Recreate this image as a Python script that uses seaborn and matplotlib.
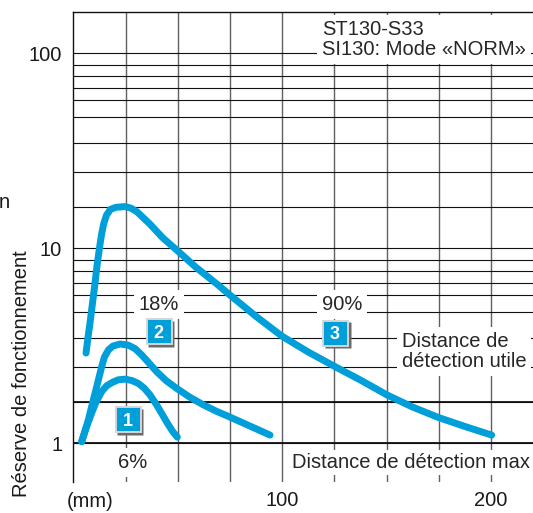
import numpy as np
import matplotlib
matplotlib.use("Agg")
import matplotlib.pyplot as plt
import matplotlib.transforms as mtransforms
import seaborn as sns
from matplotlib.ticker import FixedLocator, FixedFormatter, NullFormatter

# distance (mm) vs. excess gain
dist_6 = [4.0, 6.1, 8.8, 10.9, 13.6, 15.9, 18.4, 21.4, 24.8, 28.1, 31.1, 33.9, 36.7, 39.6,
          42.3, 45.3, 47.7, 49.8]
gain_6 = [1.04, 1.37, 1.74, 2.01, 2.30, 2.46, 2.55, 2.63, 2.65, 2.61, 2.53, 2.40, 2.21, 1.96,
          1.73, 1.47, 1.28, 1.15]

dist_18 = [4.0, 5.6, 7.2, 8.8, 10.4, 12.1, 13.6, 14.9, 16.8, 19.0, 22.4, 26.3, 29.5, 32.8,
           36.2, 39.9, 44.4, 49.5, 55.9, 62.2, 68.6, 75.0, 84.6, 94.2]
gain_18 = [1.04, 1.30, 1.57, 1.90, 2.25, 2.65, 3.0, 3.34, 3.59, 3.73, 3.80, 3.76, 3.64, 3.41,
           3.13, 2.86, 2.61, 2.39, 2.14, 1.94, 1.78, 1.64, 1.42, 1.20]

dist_90 = [6.1, 7.0, 8.0, 9.2, 10.4, 11.4, 12.4, 13.4, 14.5, 15.9, 17.8, 20.4, 24.8, 27.6,
           30.5, 33.6, 36.7, 42.9, 49.5, 58.8, 68.7, 75.0, 87.5, 99.8, 112.4, 125.3, 137.3,
           150.1, 162.2, 174.8, 187.5, 200.3]
gain_90 = [3.48, 4.01, 4.59, 5.53, 6.97, 8.53, 9.85, 13.0, 15.9, 18.1, 19.5, 20.0, 20.2, 19.8,
           18.9, 17.4, 15.9, 12.5, 9.85, 8.30, 6.89, 5.99, 4.84, 4.09, 3.52, 3.0, 2.63,
           2.21, 1.89, 1.63, 1.41, 1.20]

x_grid = [25, 50, 75, 125, 150, 175]
x_ticks = [100, 200]
y_ticks = [1, 10, 100]
y_minor = [2, 3, 4, 5, 6, 7, 8, 9, 20, 30, 40, 50, 60, 70, 80, 90]

# the printed "log" paper is not a true log scale: position of 1..10 inside a decade
MANTISSA = [1, 2, 3, 4, 5, 6, 7, 8, 9, 10]
DECADE_FRAC = [0.0, 0.210, 0.393, 0.538, 0.672, 0.761, 0.824, 0.885, 0.940, 1.0]

BLUE = "#009fda"
FS = 14.5


def _fwd(v):
    v = np.clip(np.asarray(v, dtype=float), 1e-12, None)
    dec = np.floor(np.log10(v))
    return dec + np.interp(v / 10.0 ** dec, MANTISSA, DECADE_FRAC)


def _inv(y):
    y = np.asarray(y, dtype=float)
    dec = np.floor(y)
    return np.interp(y - dec, DECADE_FRAC, MANTISSA) * 10.0 ** dec


def _badge(ax, x, y, label):
    shadow = mtransforms.offset_copy(ax.transData, fig=ax.figure, x=2.5, y=-2.5, units="dots")
    ax.plot([x], [y], marker="s", ms=19, mfc="#6b6b6b", mec="none", transform=shadow, zorder=4)
    ax.plot([x], [y], marker="s", ms=18, mfc=BLUE, mec="#d6d6d6", mew=1.4, zorder=5)
    ax.text(x, y, label, color="white", fontsize=13, fontweight="bold",
            ha="center", va="center_baseline", zorder=6)


sns.set_style("white")
plt.rcParams["font.family"] = ["Liberation Sans", "DejaVu Sans"]

fig = plt.figure(figsize=(5.33, 5.13), dpi=100)
ax = fig.add_axes([73.3 / 533, 1 - 481.7 / 513, 459.5 / 533, 470 / 513])
ax.set_yscale("function", functions=(_fwd, _inv))

for xs, ys in [(dist_6, gain_6), (dist_18, gain_18), (dist_90, gain_90)]:
    sns.lineplot(x=xs, y=ys, ax=ax, color=BLUE, lw=5, sort=False,
                 solid_capstyle="round", solid_joinstyle="round", zorder=3)

ax.set_xlim(0, 220)
ax.set_ylim(float(_inv(-0.197)), float(_inv(2.213)))

ax.xaxis.set_major_locator(FixedLocator(x_ticks))
ax.xaxis.set_minor_locator(FixedLocator(x_grid))
ax.xaxis.set_major_formatter(FixedFormatter([str(t) for t in x_ticks]))
ax.yaxis.set_major_locator(FixedLocator(y_ticks))
ax.yaxis.set_minor_locator(FixedLocator(y_minor))
ax.yaxis.set_major_formatter(FixedFormatter([str(t) for t in y_ticks]))
ax.yaxis.set_minor_formatter(NullFormatter())
ax.tick_params(which="both", length=0, labelsize=FS, colors="#1a1a1a")
ax.tick_params(axis="x", pad=7)
ax.tick_params(axis="y", pad=8)

ax.set_axisbelow(True)
ax.grid(which="both", axis="y", color="#111111", lw=0.8)
ax.grid(which="both", axis="x", color="#606060", lw=1.0)
ax.axhline(1, color="#111111", lw=1.3, zorder=1)
ax.axhline(2, color="#111111", lw=1.3, zorder=1)

for side in ["right", "bottom"]:
    ax.spines[side].set_visible(False)
for side in ["left", "top"]:
    ax.spines[side].set_color("#111111")
    ax.spines[side].set_linewidth(1.0)
ax.set_xlabel("")
ax.set_ylabel("")

white = dict(boxstyle="square,pad=0.25", fc="white", ec="none")
ax.text(119.1, 98.5, "ST130-S33\nSI130: Mode «NORM»", fontsize=FS, ha="left", va="baseline",
        linespacing=1.05, bbox=white, zorder=4)
ax.text(41.0, 5.13, "18%", fontsize=FS, ha="center", va="baseline", bbox=white, zorder=4)
ax.text(128.7, 5.13, "90%", fontsize=FS, ha="center", va="baseline", bbox=white, zorder=4)
ax.text(28.3, 0.779, "6%", fontsize=FS, ha="center", va="baseline", bbox=white, zorder=4)
ax.text(104.9, 0.779, "Distance de détection max", fontsize=FS, ha="left", va="baseline",
        bbox=dict(boxstyle="square,pad=0.15", fc="white", ec="none"), zorder=4)
ax.text(157.2, 3.0, "Distance de\ndétection utile", fontsize=FS, ha="left", va="baseline",
        linespacing=1.05, bbox=white, zorder=4)

_badge(ax, 26.0, 1.59, "1")
_badge(ax, 40.9, 4.28, "2")
_badge(ax, 125.3, 4.21, "3")

fig.text(21.7 / 533, 1 - 374 / 513, "Réserve de fonctionnement", rotation=90,
         ha="center", va="center", fontsize=FS, color="#1a1a1a")
fig.text(90 / 533, 1 - 507 / 513, "(mm)", ha="center", va="baseline", fontsize=FS, color="#1a1a1a")
fig.text(-1 / 533, 1 - 208 / 513, "n", ha="left", va="baseline", fontsize=FS, color="#1a1a1a")

fig.savefig("out.png", dpi=100)
